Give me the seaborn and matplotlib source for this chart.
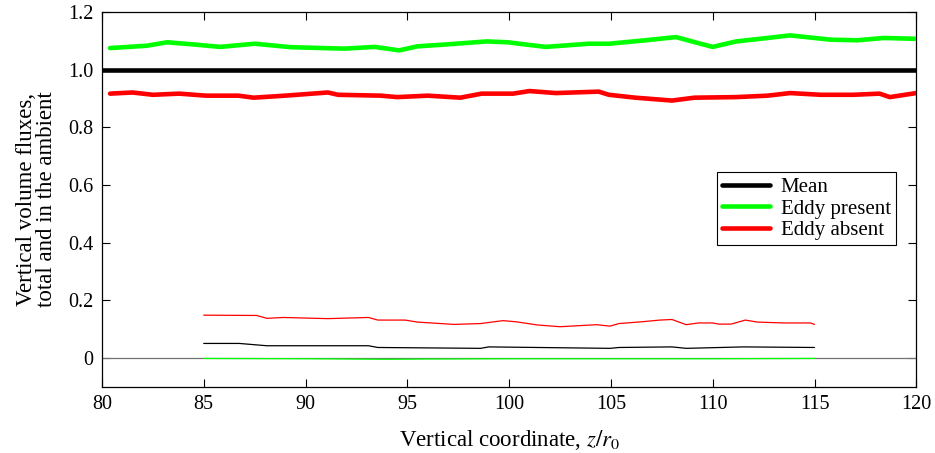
import numpy as np
import pandas as pd
import matplotlib
matplotlib.use("Agg")
import matplotlib.pyplot as plt
import seaborn as sns

# ---- data ----
z_green = [80.4, 82.2, 83.2, 84.6, 85.8, 87.5, 89.3, 91.9, 93.4, 94.6, 95.5, 96.8, 98.9,
           99.95, 100.5, 101.8, 103.9, 104.9, 106.7, 108.2, 109.3, 110.0, 111.15, 112.7,
           113.8, 115.8, 117.1, 118.4, 120.0]
v_green = [1.075, 1.083, 1.095, 1.087, 1.079, 1.090, 1.078, 1.073, 1.079, 1.067, 1.081, 1.087,
           1.098, 1.095, 1.090, 1.079, 1.090, 1.090, 1.102, 1.113, 1.092, 1.079, 1.098, 1.110,
           1.119, 1.104, 1.102, 1.110, 1.107]

z_red = [80.4, 81.5, 82.5, 83.8, 85.1, 86.7, 87.45, 89.0, 91.1, 91.6, 93.7, 94.5, 96.0,
         97.6, 98.65, 100.2, 101.0, 102.3, 104.4, 104.9, 106.2, 108.0, 109.1, 111.15, 112.7,
         113.8, 115.3, 116.9, 118.2, 118.7, 120.0]
v_red = [0.917, 0.921, 0.913, 0.917, 0.910, 0.910, 0.903, 0.910, 0.921, 0.913, 0.910, 0.905,
         0.910, 0.903, 0.917, 0.917, 0.926, 0.919, 0.924, 0.913, 0.903, 0.893, 0.903, 0.905,
         0.910, 0.919, 0.913, 0.913, 0.917, 0.905, 0.919]

z_mean = [80.0, 120.0]
v_mean = [1.0, 1.0]

z_red_thin = [85.0, 87.6, 88.1, 88.9, 91.1, 93.1, 93.55, 94.9, 95.5, 97.3, 98.6, 99.7, 100.35,
              101.4, 102.5, 104.3, 104.95, 105.4, 106.5, 107.4, 108.0, 108.7, 109.3, 110.0,
              110.3, 110.9, 111.6, 112.2, 113.5, 114.8, 115.0]
v_red_thin = [0.149, 0.148, 0.138, 0.141, 0.137, 0.141, 0.132, 0.132, 0.125, 0.117, 0.120, 0.130,
              0.126, 0.115, 0.109, 0.116, 0.111, 0.120, 0.126, 0.132, 0.134, 0.116, 0.122, 0.122,
              0.118, 0.118, 0.132, 0.125, 0.122, 0.122, 0.117]

z_black_thin = [85.0, 86.75, 88.1, 93.1, 93.55, 98.6, 99.0, 104.95, 105.4, 108.0, 108.7, 111.5, 115.0]
v_black_thin = [0.051, 0.051, 0.043, 0.043, 0.037, 0.034, 0.039, 0.034, 0.037, 0.039, 0.034, 0.039, 0.037]

z_green_thin = [85.0, 90.0, 94.0, 96.0, 100.0, 105.0, 110.0, 115.0]
v_green_thin = [-0.001, -0.002, -0.004, -0.003, -0.002, -0.002, -0.002, -0.001]

x_ticks = [80, 85, 90, 95, 100, 105, 110, 115, 120]
y_ticks = [0, 0.2, 0.4, 0.6, 0.8, 1.0, 1.2]
y_ticklabels = ["0", "0.2", "0.4", "0.6", "0.8", "1.0", "1.2"]

# ---- style ----
sns.set_style("ticks")
plt.rcParams["font.family"] = ["Liberation Serif", "DejaVu Serif"]
plt.rcParams["mathtext.fontset"] = "stix"
plt.rcParams["text.color"] = "black"
plt.rcParams["axes.labelcolor"] = "black"

fig = plt.figure(figsize=(9.35, 4.53), dpi=100)
ax = fig.add_axes([0.109, 0.1457, 0.871, 0.8278])

ax.axhline(0, color="0.45", lw=0.9, zorder=1)

sns.lineplot(x=z_mean, y=v_mean, ax=ax, color="black", lw=3.3, label="Mean", zorder=3)
sns.lineplot(x=z_green, y=v_green, ax=ax, color="#00ff00", lw=3.3, label="Eddy present", zorder=3)
sns.lineplot(x=z_red, y=v_red, ax=ax, color="#ff0000", lw=3.3, label="Eddy absent", zorder=3)

sns.lineplot(x=z_green_thin, y=v_green_thin, ax=ax, color="#00ff00", lw=0.9, zorder=2)
sns.lineplot(x=z_black_thin, y=v_black_thin, ax=ax, color="black", lw=0.9, zorder=2)
sns.lineplot(x=z_red_thin, y=v_red_thin, ax=ax, color="#ff0000", lw=0.9, zorder=2)

ax.set_xlim(80, 120)
ax.set_ylim(-0.1, 1.2)
ax.set_xticks(x_ticks)
ax.set_xticklabels([str(t) for t in x_ticks])
ax.set_yticks(y_ticks)
ax.set_yticklabels(y_ticklabels)
ax.tick_params(direction="in", length=6, width=0.8, top=True, right=True,
               labelsize=14.5, colors="black", labelcolor="black", pad=6)
for s in ax.spines.values():
    s.set_color("black")
    s.set_linewidth(0.9)

ax.set_xlabel("Vertical coordinate, $z/r_0$", fontsize=16.5, labelpad=10, color="black")
ax.set_ylabel("Vertical volume fluxes,\ntotal and in the ambient", fontsize=16.5,
              labelpad=8, linespacing=0.95, color="black")

leg = ax.legend(loc="upper left", bbox_to_anchor=(0.7555, 0.573), fontsize=15,
                frameon=True, fancybox=False, edgecolor="black", framealpha=1,
                handlelength=2.3, handletextpad=0.5, borderpad=0.25, labelspacing=0.1,
                borderaxespad=0)
leg.get_frame().set_linewidth(0.8)
for t in leg.get_texts():
    t.set_color("black")

fig.savefig("out.png", dpi=100)
